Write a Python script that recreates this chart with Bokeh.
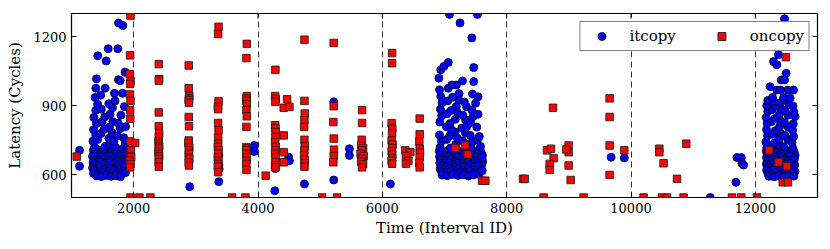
from bokeh.plotting import figure
from bokeh.models import Range1d, FixedTicker, Legend, LegendItem
from bokeh.embed import file_html
from bokeh.resources import INLINE

FONT = "DejaVu Serif"

x_range_lim = [1000, 13000]
y_range_lim = [500, 1300]
x_ticks = [2000, 4000, 6000, 8000, 10000, 12000]
y_ticks = [600, 900, 1200]

# ---------------- itcopy (blue circles) ----------------
itcopy_burst1 = [
    (1352,704),(1418,708),(1497,701),(1583,706),(1648,699),(1733,703),(1806,709),(1878,700),
    (1381,691),(1462,688),(1528,693),(1612,686),(1688,690),(1772,687),(1848,692),
    (1338,679),(1409,676),(1493,681),(1561,677),(1642,680),(1719,675),(1802,678),(1871,682),
    (1369,666),(1441,663),(1522,668),(1598,664),(1683,667),(1748,662),(1829,665),(1896,669),
    (1347,653),(1402,650),(1468,655),(1553,651),(1628,654),(1703,649),(1781,652),(1858,656),
    (1361,641),(1432,638),(1509,643),(1584,639),(1657,642),(1742,637),(1819,640),(1889,644),
    (1339,629),(1391,626),(1463,631),(1538,627),(1621,630),(1697,625),(1773,628),(1852,632),
    (1372,617),(1448,614),(1523,619),(1601,615),(1679,618),(1752,613),(1833,616),
    (1353,605),(1421,602),(1502,607),(1569,603),(1652,606),(1718,601),(1798,604),(1868,608),
    (1403,594),(1481,591),(1562,596),(1638,592),(1712,595),(1787,590),
    (1370,720),(1540,722),(1625,732),(1705,718),(1865,735),
    (1345,745),(1420,752),(1600,757),(1680,744),(1840,760),
    (1390,770),(1475,778),(1650,781),(1735,768),
    (1355,795),(1525,797),(1610,806),(1785,800),(1870,808),
    (1400,822),(1490,828),(1665,830),(1750,824),
    (1360,848),(1535,850),(1620,862),(1795,858),
    (1390,878),(1480,884),(1660,890),(1850,895),
    (1420,905),(1600,908),(1700,920),
    (1380,935),(1470,945),(1691,953),(1820,953),(1391,975),(1542,975),
    (1402,1016),(1756,1012),(1783,1008),(1863,1045),(1423,1116),(1558,1094),
    (1590,1147),(1745,1147),(1756,1259),(1825,1248),
]
itcopy_burst2 = [
    (6915,702),(6990,698),(7065,705),(7140,700),(7215,703),(7290,697),(7365,704),(7440,699),(7515,702),(7590,696),
    (6940,689),(7015,686),(7090,691),(7165,684),(7240,690),(7315,687),(7390,692),(7465,685),(7540,689),(7610,683),
    (6920,676),(6995,673),(7070,678),(7145,671),(7220,677),(7295,674),(7370,679),(7445,672),(7520,676),(7595,670),
    (6945,663),(7020,660),(7095,665),(7170,658),(7245,664),(7320,661),(7395,666),(7470,659),(7545,663),(7615,657),
    (6925,650),(7000,647),(7075,652),(7150,645),(7225,651),(7300,648),(7375,653),(7450,646),(7525,650),(7600,644),
    (6950,637),(7025,634),(7100,639),(7175,632),(7250,638),(7325,635),(7400,640),(7475,633),(7550,637),
    (6930,624),(7005,621),(7080,626),(7155,619),(7230,625),(7305,622),(7380,627),(7455,620),(7530,624),(7605,618),
    (6955,611),(7030,608),(7105,613),(7180,606),(7255,612),(7330,609),(7405,614),(7480,607),(7555,611),
    (6960,598),(7045,595),(7130,600),(7215,596),(7300,599),(7385,594),(7470,598),(7555,601),
    (6930,718),(7095,715),(7180,730),(7345,733),(7425,717),(7580,722),
    (6950,745),(7035,752),(7205,758),(7290,747),(7450,742),(7530,750),
    (6920,772),(7085,768),(7170,785),(7335,782),(7415,770),(7560,765),
    (7030,808),(7110,795),(7280,802),(7360,810),(7520,806),
    (6925,828),(7090,822),(7175,840),(7340,838),(7420,826),
    (6955,855),(7040,864),(7210,868),(7295,858),(7460,852),(7540,862),
    (6935,884),(7105,878),(7190,896),(7355,894),(7440,880),
    (6960,912),(7050,920),(7230,925),(7320,915),(7500,910),
    (6940,940),(7130,936),(7235,952),(7450,950),(7540,938),
    (6920,968),(7060,975),(7190,989),(7120,989),(7290,1007),(7470,1004),(6910,1019),
    (6940,1055),(6990,1070),(7060,1087),(7470,1065),(7440,1194),(7250,1259),(7080,1296),(7530,1296),
]
itcopy_burst3 = [
    (12175,702),(12240,698),(12305,705),(12370,700),(12435,703),(12500,697),(12565,704),(12625,699),
    (12195,688),(12260,685),(12325,691),(12390,684),(12455,690),(12520,686),(12585,692),(12640,683),
    (12180,674),(12245,671),(12310,677),(12375,670),(12440,676),(12505,673),(12570,678),(12630,669),
    (12200,660),(12265,657),(12330,663),(12395,656),(12460,662),(12525,659),(12590,664),
    (12178,646),(12243,643),(12308,649),(12373,642),(12438,648),(12503,645),(12568,650),(12633,641),
    (12198,632),(12263,629),(12328,635),(12393,628),(12458,634),(12523,631),(12588,636),
    (12182,618),(12247,615),(12312,621),(12377,614),(12442,620),(12507,617),(12572,622),(12637,613),
    (12205,604),(12270,601),(12335,607),(12400,600),(12465,606),(12530,603),(12595,608),
    (12220,592),(12300,590),(12380,594),(12460,591),(12540,595),(12620,593),
    (12185,718),(12255,725),(12390,730),(12460,720),(12600,716),
    (12170,742),(12310,738),(12380,755),(12520,752),(12590,740),
    (12195,768),(12265,775),(12405,780),(12475,770),(12615,765),
    (12180,795),(12320,790),(12390,808),(12530,805),(12600,792),
    (12190,822),(12260,830),(12400,835),(12470,825),(12610,820),
    (12175,848),(12315,844),(12385,860),(12525,858),(12640,852),
    (12200,875),(12270,882),(12410,888),(12480,878),(12620,872),
    (12185,900),(12325,897),(12395,912),(12535,910),(12605,898),
    (12200,922),(12290,918),(12470,925),(12560,932),
    (12277,935),(12455,935),(12240,982),(12347,967),(12400,967),(12525,967),(12615,967),
    (12417,1011),(12470,1011),(12495,1040),(12293,1091),(12347,1077),(12373,1121),(12470,1277),
]
itcopy_other = [
    (1129,705),(1129,636),(2902,547),(3370,683),(3370,642),(3370,569),(3375,624),
    (3943,726),(3943,700),(4270,529),(4280,626),(4494,675),(4505,660),(4747,559),
    (5218,916),(5218,576),(5470,712),(5470,683),(6130,559),(7604,675),(7604,616),
    (9680,675),(9892,672),(11704,674),(11774,674),(11785,649),(11811,641),(11688,566),(11275,500),
]

# ---------------- oncopy (red squares) ----------------
oncopy_points = [
    (1085,678),
    (1949,1291),(1943,1118),(1935,1037),(1950,1007),(1943,994),(1940,948),(1948,920),(1943,880),(1945,843),
    (1943,744),(2024,737),(1955,705),(1943,680),(1960,675),(1935,660),(1950,645),(1943,631),
    (1950,500),(2093,500),(2270,500),
    (2404,1080),(2410,1015),(2404,1008),(2404,870),(2404,810),(2410,780),(2404,763),(2400,745),(2404,734),
    (2410,722),(2404,712),(2400,700),(2404,690),(2410,680),(2404,668),(2404,653),(2404,634),
    (2886,1074),(2886,975),(2895,941),(2890,930),(2886,923),(2890,912),(2886,850),(2890,810),(2886,748),
    (2880,737),(2895,718),(2886,705),(2890,690),(2886,675),(2895,668),(2886,652),(2890,639),
    (3365,1242),(3359,1211),(3365,919),(3355,894),(3359,884),(3359,824),(3365,792),(3359,760),(3359,734),
    (3355,720),(3365,705),(3359,690),(3355,675),(3365,660),(3359,646),(3355,634),(3359,610),
    (3820,1168),(3814,1106),(3820,941),(3810,930),(3814,920),(3820,905),(3814,880),(3820,853),(3814,807),
    (3810,719),(3820,712),(3814,705),(3810,690),(3820,675),(3814,660),(3810,646),(3814,620),
    (3584,500),(3798,500),(4124,595),
    (4280,1055),(4275,941),(4285,928),(4280,916),(4275,814),(4280,801),(4285,785),(4280,763),(4275,741),
    (4285,720),(4280,705),(4275,690),(4285,675),(4280,653),(4275,640),(4280,631),
    (4414,890),(4414,770),(4414,697),(4414,653),(4468,927),(4505,894),
    (4747,1186),(4747,920),(4752,865),(4747,836),(4742,807),(4747,751),(4752,722),(4747,705),(4742,683),
    (4747,665),(4752,649),(4747,634),
    (5218,1172),(5218,897),(5212,828),(5218,756),(5222,708),(5218,680),(5212,653),(5031,500),(5272,500),
    (5674,880),(5674,824),(5668,751),(5660,726),(5690,715),(5674,705),(5650,690),(5700,680),(5674,668),
    (5660,655),(5690,645),(5674,631),
    (6157,1128),(6157,1084),(6150,823),(6160,800),(6157,779),(6150,748),(6165,730),(6157,715),(6150,700),
    (6160,685),(6157,670),(6150,660),(6157,647),
    (6370,705),(6450,697),(6380,680),(6420,660),(6380,647),
    (6601,843),(6601,775),(6595,744),(6601,712),(6605,695),(6601,675),(6595,650),(6601,631),
    (7175,715),(7336,726),(7373,687),(7604,573),(7657,573),
    (8263,581),(8290,581),(8746,890),(8649,705),(8713,712),(8756,671),(8692,646),(8692,620),
    (8997,726),(8997,697),(8960,709),(8997,639),(9030,576),
    (9656,931),(9656,850),(9656,726),(9656,598),(9892,705),(8595,500),(9238,500),
    (10455,712),(10455,697),(10524,649),(10740,581),(10889,734),
    (10202,500),(10498,500),(10578,500),(10846,500),(11624,500),(11774,500),(12026,500),
    (12492,1110),(12222,705),(12373,653),(12508,636),(12441,566),(12525,566),
]

itcopy_all = itcopy_burst1 + itcopy_burst2 + itcopy_burst3 + itcopy_other
it_x = [pt[0] for pt in itcopy_all]
it_y = [pt[1] for pt in itcopy_all]
on_x = [pt[0] for pt in oncopy_points]
on_y = [pt[1] for pt in oncopy_points]

p = figure(width=830, height=249, output_backend="svg", toolbar_location=None,
           x_range=Range1d(*x_range_lim), y_range=Range1d(*y_range_lim),
           min_border_left=71, min_border_right=13, min_border_top=13, min_border_bottom=52)
p.background_fill_color = "white"
p.border_fill_color = "white"
p.outline_line_color = "black"
p.outline_line_width = 1.2
p.outline_line_alpha = 1

p.xaxis.ticker = FixedTicker(ticks=x_ticks)
p.yaxis.ticker = FixedTicker(ticks=y_ticks)
for ax in [p.xaxis[0], p.yaxis[0]]:
    ax.axis_line_color = None
    ax.major_tick_in = 5
    ax.major_tick_out = 0
    ax.major_tick_line_color = "black"
    ax.minor_tick_line_color = None
    ax.major_label_text_font = FONT
    ax.major_label_text_font_size = "13px"
    ax.major_label_text_color = "black"
    ax.axis_label_text_font = FONT
    ax.axis_label_text_font_size = "15px"
    ax.axis_label_text_font_style = "normal"
    ax.axis_label_text_color = "black"
p.xaxis.axis_label = "Time (Interval ID)"
p.yaxis.axis_label = "Latency (Cycles)"
p.xaxis.major_label_standoff = 5
p.xaxis.axis_label_standoff = 3
p.yaxis.major_label_standoff = 5
p.yaxis.axis_label_standoff = 6

p.xgrid.grid_line_color = "black"
p.xgrid.grid_line_dash = "6 4"
p.xgrid.grid_line_alpha = 0.8
p.xgrid.grid_line_width = 1
p.ygrid.grid_line_color = None

# tick marks on the top and right frame edges (matplotlib classic style)
p.scatter(x_ticks, [y_range_lim[1]] * len(x_ticks), marker="dash", angle=1.5708,
          size=10, line_color="black", line_width=1)
p.scatter([x_range_lim[1]] * len(y_ticks), y_ticks, marker="dash",
          size=10, line_color="black", line_width=1)

r_it = p.scatter(it_x, it_y, marker="circle", size=8, fill_color="#0000ff",
                 line_color="black", line_width=0.8)
r_on = p.scatter(on_x, on_y, marker="square", size=7.5, fill_color="#ff0000",
                 line_color="#222222", line_width=0.9)

legend = Legend(items=[LegendItem(label="itcopy", renderers=[r_it]),
                       LegendItem(label="oncopy", renderers=[r_on])],
                location="top_right", orientation="horizontal",
                margin=8, padding=4, spacing=29, glyph_width=34, glyph_height=20,
                label_standoff=11, label_text_font=FONT, label_text_font_size="15px",
                label_text_color="black", border_line_color="black", border_line_width=1,
                background_fill_color="white", background_fill_alpha=1)
p.add_layout(legend, "center")

open("out.html", "w").write(file_html(p, INLINE))
